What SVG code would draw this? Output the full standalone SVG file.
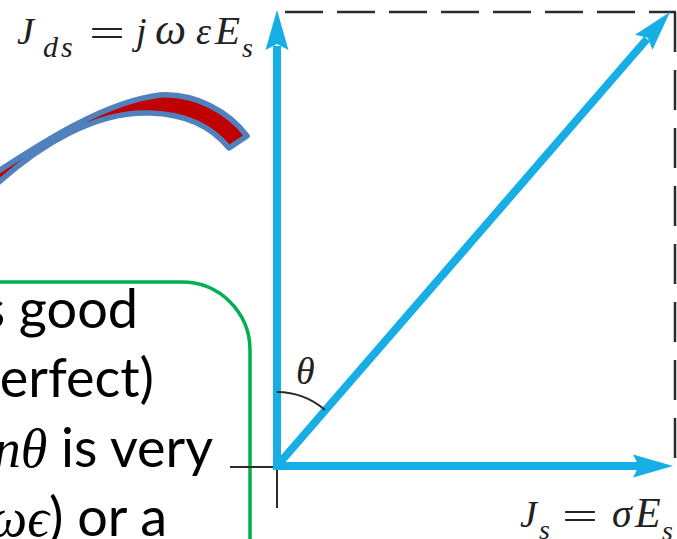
<svg xmlns="http://www.w3.org/2000/svg" xmlns:xlink="http://www.w3.org/1999/xlink" width="677" height="539" viewBox="0 0 677 539">
<style>
.vec{stroke:#17AEE6;stroke-width:8;fill:none;stroke-linecap:butt}
.head{fill:#17AEE6}
.dash{stroke:#2b2b2b;stroke-width:2.5;fill:none}
.thin{stroke:#2b2b2b;stroke-width:2;fill:none}
.math{font-family:"Liberation Serif","Times New Roman",serif;font-style:italic;fill:#222}
.rm{font-family:"Liberation Serif","Times New Roman",serif;fill:#222}
.body{font-family:Lato,"Open Sans",sans-serif;font-size:54px;fill:#000}
.bm{font-family:"Liberation Serif","DejaVu Serif",serif;font-style:italic}
</style>
<defs>
<path id="head" d="M0,0 L-40,-11.5 L-34,0 L-40,11.5 Z"/>
</defs>
<rect width="677" height="539" fill="#fff"/>

<g id="curved-arrow">
<path d="M -20,183 C 20,158 95,103 160,95 C 196,93 229,112 247,136 L 229,148 C 212,127 186,114 150,113 C 100,111 40,140 -20,200 Z" fill="#C00000" stroke="#4F81BD" stroke-width="5.5" stroke-linejoin="round"/>
</g>

<g id="green-box">
<path d="M -10,282 H 182 A 68 68 0 0 1 250 350 V 545" fill="none" stroke="#00B050" stroke-width="3.5"/>
<text class="body" text-anchor="end" x="138" y="328">s good</text>
<text class="body" text-anchor="end" x="154" y="397">erfect)</text>
<text class="body" text-anchor="end" x="213" y="467"><tspan class="bm">nθ</tspan> is very</text>
<text class="body" text-anchor="end" x="167" y="536"><tspan class="bm">ωϵ</tspan>) or a</text>
</g>

<g id="axes">
<path class="thin" d="M230,467 H277 V508"/>
<path class="dash" d="M285,12 H676" stroke-dasharray="38 14"/>
<path class="dash" d="M675,12 V463" stroke-dasharray="40 18"/>
</g>

<g id="connectors">
<g id="vec-Jds">
<path class="vec" d="M277,470 V46"/>
<use xlink:href="#head" class="head" transform="translate(277,10) rotate(-90)"/>
</g>
<g id="vec-Js">
<path class="vec" d="M273,466 H640"/>
<use xlink:href="#head" class="head" transform="translate(673,466)"/>
</g>
<g id="vec-total">
<path class="vec" d="M277,466 L647,39"/>
<use xlink:href="#head" class="head" transform="translate(670,12) rotate(-49.1)"/>
</g>
</g>

<g id="theta">
<path class="thin" d="M277,392 A74 74 0 0 1 325,410"/>
<text class="math" x="296" y="384" font-size="38">θ</text>
</g>

<g id="label-Jds">
<text class="math" x="17" y="44" font-size="38">J</text>
<text class="math" x="43" y="57" font-size="30" letter-spacing="3">ds</text>
<text class="rm" x="89" y="46" font-size="38" textLength="36" lengthAdjust="spacingAndGlyphs">=</text>
<text class="math" font-size="38"><tspan x="136" y="44">j</tspan><tspan x="155" y="44" font-size="44">ω</tspan><tspan x="196" y="44">ε</tspan><tspan x="215" y="44" font-size="41">E</tspan></text>
<text class="math" x="242" y="57" font-size="28">s</text>
</g>

<g id="label-Js">
<text class="math" x="520" y="527" font-size="38">J</text>
<text class="math" x="539" y="539" font-size="28">s</text>
<text class="rm" x="562" y="529" font-size="38" textLength="36" lengthAdjust="spacingAndGlyphs">=</text>
<text class="math" x="612" y="527" font-size="40">σ</text>
<text class="math" x="635" y="527" font-size="42">E</text>
<text class="math" x="662" y="540" font-size="28">s</text>
</g>
</svg>
